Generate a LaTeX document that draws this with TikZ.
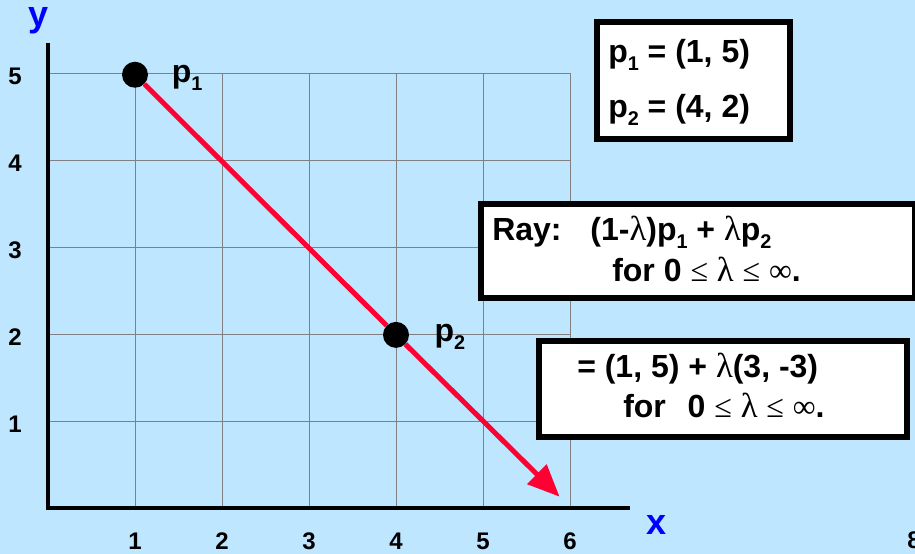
\documentclass[tikz,border=0pt]{standalone}
\usepackage{fontspec}
\usepackage{graphicx}
\setmainfont{Liberation Sans}
\newfontfamily\symf{Liberation Serif}
\usetikzlibrary{arrows.meta}
\definecolor{bg}{RGB}{191,230,255}
\definecolor{rayred}{RGB}{255,0,51}
\definecolor{axblue}{RGB}{0,0,255}
\newcommand\mysub[1]{\raisebox{-0.25em}{\scalebox{0.62}{#1}}}
\newcommand\lam{{\symf\mdseries\fontsize{26}{28}\selectfont λ}}
\newcommand\leqs{{\symf\mdseries ≤}}
\newcommand\infs{{\symf\mdseries ∞}}
\tikzset{
  boxstyle/.style={draw=black, fill=white, line width=4.5pt, inner sep=0pt, anchor=north west},
  btext/.style={font=\fontsize{24}{28}\selectfont\bfseries, anchor=base west, inner sep=0pt},
  numlab/.style={font=\fontsize{18}{21}\selectfont\bfseries, inner sep=0pt},
  axlab/.style={font=\fontsize{27}{30}\selectfont\bfseries, text=axblue, inner sep=0pt},
  dot/.style={circle, fill=black, minimum size=19.5pt, inner sep=0pt},
  plab/.style={font=\fontsize{24}{28}\selectfont\bfseries, inner sep=0pt},
  rayline/.style={draw=rayred, line width=3.75pt},
  gridline/.style={draw=gray, line width=0.75pt}
}
\begin{document}
\begin{tikzpicture}[x=0.75pt, y=-0.75pt]
\fill[bg] (0,0) rectangle (915,554);
\useasboundingbox (0,0) rectangle (915,554);
\begin{scope}[shift={(48,508)}, x=65.25pt, y=65.25pt]
  \foreach \i in {1,...,6} { \draw[gridline] (\i,0) -- (\i,5); }
  \foreach \j in {1,...,5} { \draw[gridline] (0,\j) -- (6,\j); }
  \draw[line width=3pt] (0,5.35) -- (0,0) -- (6.69,0);
  \foreach \i in {1,...,6} { \node[numlab] (xl\i) at (\i,-0.38) {\i}; }
  \foreach \j in {1,...,5} { \node[numlab] (yl\j) at (-0.38,\j-0.04) {\j}; }
  \node[axlab] (ylab) at (-0.11,5.6) {y};
  \node[axlab] (xlab) at (7.0,-0.2) {x};
  \node[dot] (p1) at (1,4.98) {};
  \node[dot] (p2) at (4,1.99) {};
  \coordinate (rayend) at (5.88,0.13);
  \draw[rayline] (p1) -- (p2);
  \draw[rayline, -{Triangle[length=24pt,width=20pt]}] (p2) -- (rayend);
  \node[plab] (p1lab) at (1.6,4.94) {p\mysub{1}};
  \node[plab] (p2lab) at (4.62,1.97) {p\mysub{2}};
\end{scope}
% box 1
\node[boxstyle, minimum width=193*0.75pt, minimum height=117*0.75pt] (box1) at (594,19) {};
\node[btext] (t11) at (608,62) {p\mysub{1} = (1, 5)};
\node[btext] (t12) at (608,117) {p\mysub{2} = (4, 2)};
% box 2
\node[boxstyle, minimum width=434*0.75pt, minimum height=94*0.75pt] (box2) at (478,201) {};
\node[btext] (t21) at (492,240) {Ray:\hspace{0.9em}(1-\lam)p\mysub{1} + \lam p\mysub{2}};
\node[btext] (t22) at (612,281) {for 0 \leqs{} \lam{} \leqs{} \infs.};
% box 3
\node[boxstyle, minimum width=368*0.75pt, minimum height=96*0.75pt] (box3) at (536,338) {};
\node[btext] (t31) at (577,377) {= (1, 5) + \lam(3, -3)};
\node[btext] (t32) at (623,417) {for\hspace{0.4em} 0 \leqs{} \lam{} \leqs{} \infs.};
% page number
\node[numlab, anchor=base west] (pg) at (907,548) {8};
\end{tikzpicture}
\end{document}
